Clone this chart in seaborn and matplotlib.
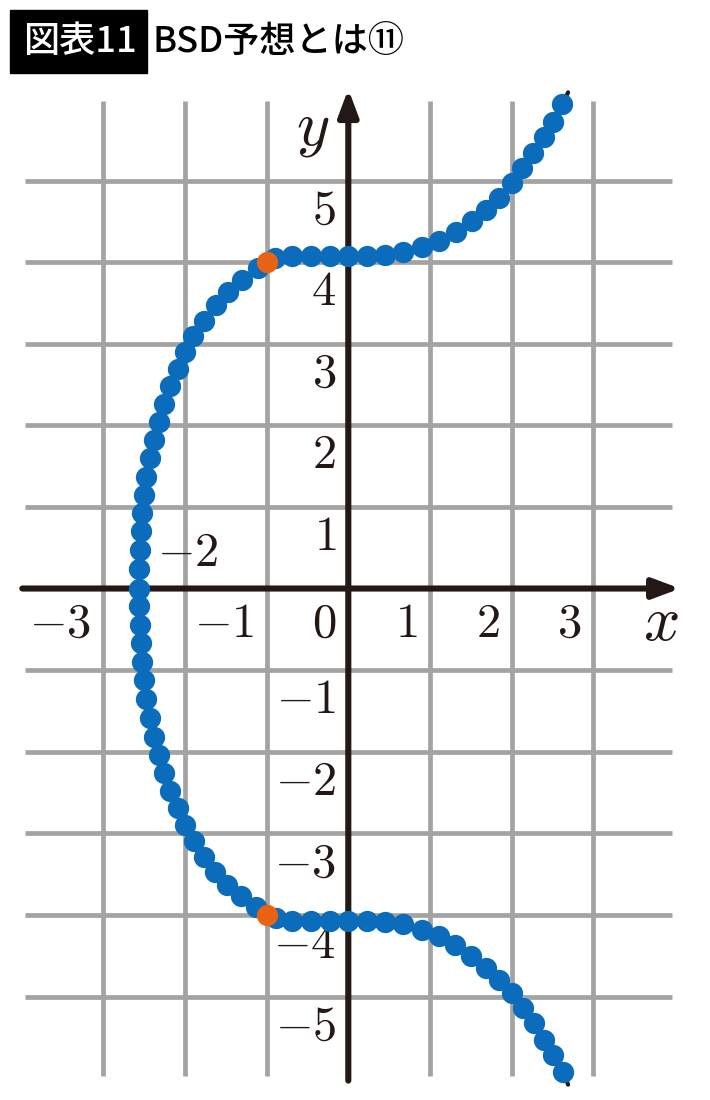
import matplotlib
matplotlib.use("Agg")
import matplotlib.pyplot as plt
import seaborn as sns
import pandas as pd

sns.set_style("white")
plt.rcParams["font.family"] = ["Noto Sans CJK JP", "DejaVu Sans"]
plt.rcParams["mathtext.fontset"] = "cm"

# points, from the top-right end down to the bottom-right end
curve_x = [2.62, 2.51, 2.39, 2.26, 2.13, 2.00, 1.85, 1.69, 1.51, 1.32, 1.11, 0.90,
           0.67, 0.45, 0.23, 0.00, -0.22, -0.46, -0.69, -0.90,
           -1.11, -1.30, -1.47, -1.62, -1.77, -1.90, -2.00, -2.09, -2.18, -2.26,
           -2.32, -2.38, -2.43, -2.47, -2.50, -2.52, -2.54, -2.55, -2.56, -2.56,
           -2.56, -2.55, -2.54, -2.52, -2.50, -2.47, -2.43, -2.38, -2.32, -2.26,
           -2.18, -2.09, -2.00, -1.89, -1.77, -1.63, -1.48, -1.31, -1.13,
           -0.88, -0.69, -0.46, -0.23, 0.00, 0.23, 0.45, 0.67, 0.90, 1.11, 1.31,
           1.50, 1.68, 1.85, 2.00, 2.14, 2.27, 2.40, 2.51, 2.63]
curve_y = [5.94, 5.72, 5.53, 5.34, 5.15, 4.97, 4.79, 4.64, 4.50, 4.37, 4.26, 4.18,
           4.12, 4.09, 4.08, 4.08, 4.08, 4.08, 4.08, 4.05,
           3.93, 3.78, 3.63, 3.47, 3.28, 3.09, 2.90, 2.69, 2.48, 2.26,
           2.04, 1.82, 1.60, 1.37, 1.15, 0.92, 0.70, 0.47, 0.24, 0.00,
           -0.22, -0.45, -0.67, -0.90, -1.12, -1.35, -1.59, -1.82, -2.04, -2.26,
           -2.48, -2.69, -2.90, -3.09, -3.29, -3.47, -3.63, -3.77, -3.90,
           -4.04, -4.08, -4.08, -4.08, -4.08, -4.08, -4.09, -4.11, -4.18, -4.26, -4.37,
           -4.50, -4.65, -4.80, -4.96, -5.14, -5.33, -5.53, -5.72, -5.92]

# thin curve underneath, with the short tails past the last dots
line_x = [2.69] + curve_x + [2.69]
line_y = [6.08] + curve_y + [-6.08]

# rational points
point_x = [-1, -1]
point_y = [4, -4]

grid_x = [-3, -2, -1, 1, 2, 3]
grid_y = [-5, -4, -3, -2, -1, 1, 2, 3, 4, 5]
xtick_vals = [-3, -1, 0, 1, 2, 3]
ytick_vals = [5, 4, 3, 2, 1, -1, -2, -3, -4, -5]

blue = "#0a6cba"
orange = "#ea6214"
ink = "#231815"
gray = "#a3a3a3"

fig = plt.figure(figsize=(7.1, 11), dpi=100)
ax = fig.add_axes([0, 0, 1, 1])
ax.set_xlim(-4.263, 4.427)
ax.set_ylim(-6.268, 7.212)
ax.axis("off")

# grid
ax.vlines(grid_x, -5.97, 5.98, color=gray, lw=3.4, zorder=1)
ax.hlines(grid_y, -3.96, 3.96, color=gray, lw=3.4, zorder=1)

# axes with arrows
arrow = dict(arrowstyle="-|>,head_length=0.8,head_width=0.3", lw=4.4, color=ink,
             mutation_scale=20, shrinkA=0, shrinkB=0)
ax.annotate("", xy=(4.06, 0), xytext=(-3.99, 0), arrowprops=arrow, zorder=2)
ax.annotate("", xy=(0, 6.12), xytext=(0, -6.03), arrowprops=arrow, zorder=2)

# curve
line_df = pd.DataFrame({"x": line_x, "y": line_y})
sns.lineplot(data=line_df, x="x", y="y", sort=False, estimator=None, color=ink,
             lw=3, ax=ax, zorder=3)
dots = pd.DataFrame({"x": curve_x, "y": curve_y})
sns.scatterplot(data=dots, x="x", y="y", color=blue, s=235, linewidth=0, ax=ax, zorder=4)
pts = pd.DataFrame({"x": point_x, "y": point_y})
sns.scatterplot(data=pts, x="x", y="y", color=orange, s=235, linewidth=0, ax=ax, zorder=5)
ax.set_xlabel("")
ax.set_ylabel("")

# tick labels
for v in xtick_vals:
    ax.text(v - 0.15, -0.42, f"${v}$", ha="right", va="center", fontsize=35, color=ink)
for v in ytick_vals:
    ax.text(-0.15, v - 0.36, f"${v}$", ha="right", va="center", fontsize=35, color=ink)
ax.text(-2.34, 0.45, "$-2$", ha="left", va="center", fontsize=35, color=ink)
ax.text(3.82, -0.41, "$x$", ha="center", va="center", fontsize=46, color=ink)
ax.text(-0.43, 5.66, "$y$", ha="center", va="center", fontsize=46, color=ink)

# heading
fig.patches.append(plt.Rectangle((10 / 710, 1 - 73 / 1100), 137 / 710, 63 / 1100,
                                 transform=fig.transFigure, color="black", zorder=10))
fig.text(80 / 710, 1 - 42 / 1100, "図表11", ha="center", va="center", fontsize=26,
         fontweight="medium", color="white", zorder=11)
fig.text(153 / 710, 1 - 42 / 1100, "BSD予想とは⑪", ha="left", va="center", fontsize=26,
         fontweight="medium", color="black", zorder=11)

fig.savefig("out.png", dpi=100)
